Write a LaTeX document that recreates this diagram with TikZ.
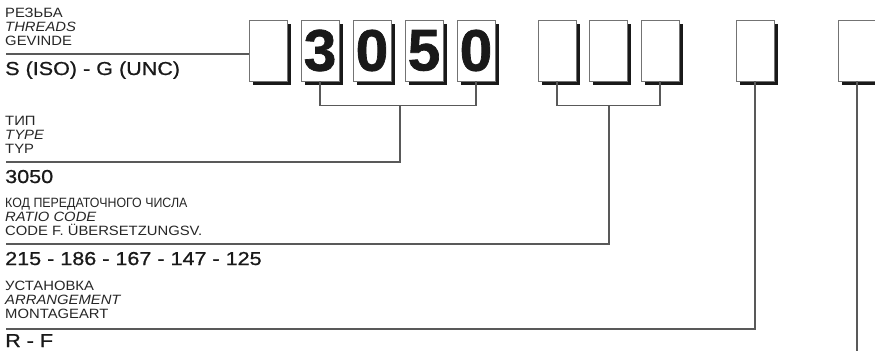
\documentclass[tikz,border=0pt]{standalone}
\usepackage{fontspec}
\setmainfont{Liberation Sans}
\newfontfamily\smfont[FakeStretch=1.1]{Liberation Sans}
\newfontfamily\narrowfont[FakeStretch=0.92]{Liberation Sans}
\newfontfamily\medfont[FakeStretch=1.15,FakeBold=0.8]{Liberation Sans}
\newfontfamily\digitfont[FakeBold=1.2]{Liberation Sans}
\usetikzlibrary{shadows}

\begin{document}
\begin{tikzpicture}[
    x=0.03cm, y=-0.03cm,
    digit/.style={draw=black!55, line width=0.6pt, fill=white, minimum width=1.14cm, minimum height=1.83cm, inner sep=0pt,
      general shadow={fill=black!90, shadow xshift=0.13cm, shadow yshift=-0.13cm},
      font=\digitfont\bfseries\fontsize{50}{50}\selectfont, text=black!90},
    lead/.style={draw=black!65, line width=0.9pt},
    sm/.style={anchor=base west, inner sep=0pt, font=\smfont\fontsize{11.5}{13}\selectfont, text=black!85},
    smit/.style={sm, font=\smfont\itshape\fontsize{11.5}{13}\selectfont},
    smnarrow/.style={sm, font=\narrowfont\fontsize{11.5}{13}\selectfont},
    big/.style={anchor=base west, inner sep=0pt, font=\medfont\fontsize{16}{18}\selectfont, text=black!90},
  ]
    \useasboundingbox (0,0) rectangle (875,351);
    % ===== code boxes =====
    \foreach \n/\x in {1/268, 6/557, 7/608, 8/660, 9/755, 10/857}
      \node[digit] (b\n) at (\x,50.5) {};
    \foreach \n/\x/\d in {2/320/3, 3/372/0, 4/424/5, 5/476/0}
      \node[digit] (b\n) at (\x,50.5) {\raisebox{-0.1cm}{\d}};

    % ===== leader lines =====
    \coordinate (e1) at (6,54);
    \coordinate (j2) at (400,105);
    \coordinate (e2) at (6,162);
    \coordinate (j3) at (609,105);
    \coordinate (e3) at (6,244);
    \coordinate (e4) at (6,329);
    \coordinate (e5) at (0,351);
    \draw[lead] (e1) -- (e1 -| b1.west);
    \draw[lead] (b2.south) -- ++(0,24) -| (b5.south);
    \draw[lead] (j2) |- (e2);
    \draw[lead] (b6.south) -- ++(0,24) -| (b8.south);
    \draw[lead] (j3) |- (e3);
    \draw[lead] (b9.south) |- (e4);
    \draw[lead] (b10.south) -- (b10.south |- e5);

    % ===== labels =====
    \node[sm]   (t1a) at (5,17)  {РЕЗЬБА};
    \node[smit] (t1b) at (5,31)  {THREADS};
    \node[sm]   (t1c) at (5,45)  {GEVINDE};
    \node[big]  (v1)  at (5,75)  {S (ISO) - G (UNC)};

    \node[sm]   (t2a) at (5,125) {ТИП};
    \node[smit] (t2b) at (5,139) {TYPE};
    \node[sm]   (t2c) at (5,153) {TYP};
    \node[big]  (v2)  at (5,183) {3050};

    \node[smnarrow] (t3a) at (5,207) {КОД ПЕРЕДАТОЧНОГО ЧИСЛА};
    \node[smit] (t3b) at (5,221) {RATIO CODE};
    \node[sm]   (t3c) at (5,235) {CODE F. ÜBERSETZUNGSV.};
    \node[big]  (v3)  at (5,265) {215 - 186 - 167 - 147 - 125};

    \node[sm]   (t4a) at (5,290) {УСТАНОВКА};
    \node[smit] (t4b) at (5,304) {ARRANGEMENT};
    \node[sm]   (t4c) at (5,318) {MONTAGEART};
    \node[big]  (v4)  at (5,347) {R - F};
\end{tikzpicture}
\end{document}
